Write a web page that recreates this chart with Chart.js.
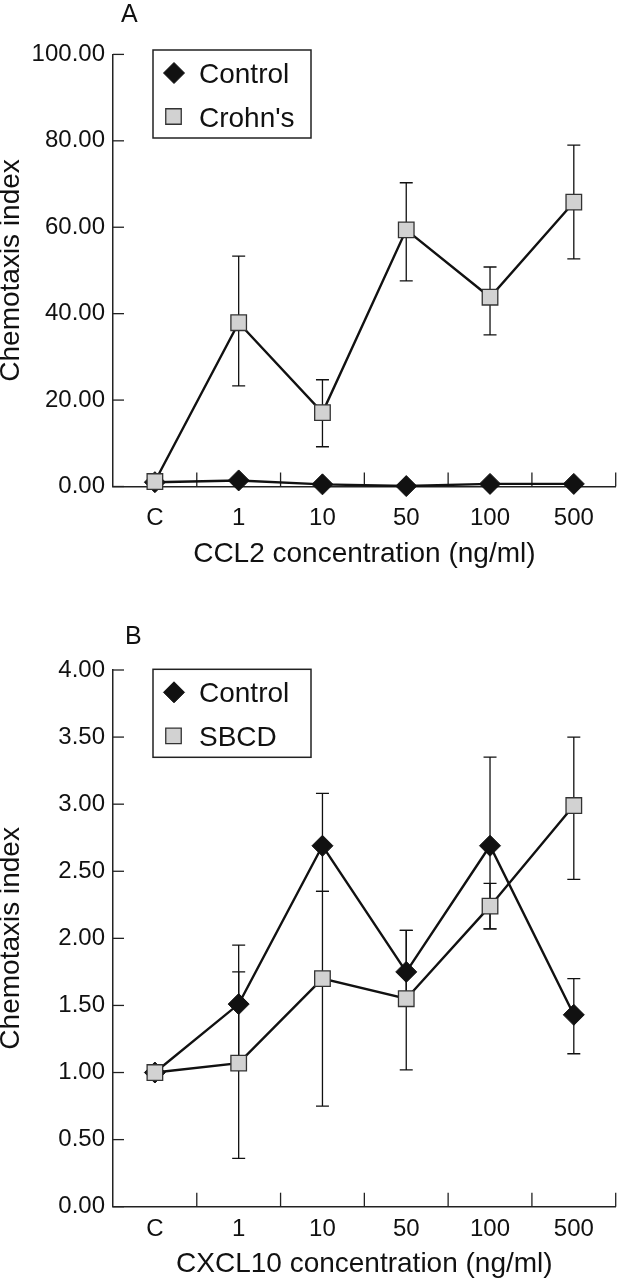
<!DOCTYPE html>
<html><head><meta charset="utf-8">
<script src="https://cdn.jsdelivr.net/npm/chart.js@4.4.0/dist/chart.umd.min.js"></script>
<style>
html,body{margin:0;padding:0;background:#fff;}
#wrap{position:relative;width:628px;height:1280px;overflow:hidden;background:#fff;}
canvas{position:absolute;left:0;}
#cA{top:0;} #cB{top:600px;}
</style></head><body>
<div id="wrap"><canvas id="cA" width="628" height="600"></canvas><canvas id="cB" width="628" height="680"></canvas></div>
<script>
// ---------- data ----------
const categories = ['C', '1', '10', '50', '100', '500'];

// Panel A (CCL2)
const controlA     = [1.0, 1.4, 0.5, 0.1, 0.6, 0.6];
const crohnsA      = [1.15, 37.9, 17.1, 59.4, 43.8, 65.8];
const crohnsALow   = [null, 23.3, 9.2, 47.6, 35.1, 52.7];
const crohnsAHigh  = [null, 53.3, 24.7, 70.3, 50.8, 79.0];
const yTicksA      = [0, 20, 40, 60, 80, 100];

// Panel B (CXCL10)
const controlB     = [1.0, 1.51, 2.69, 1.75, 2.69, 1.43];
const controlBLow  = [null, 1.07, 2.35, 1.55, 2.07, 1.14];
const controlBHigh = [null, 1.95, 3.08, 2.06, 3.35, 1.70];
const sbcdB        = [1.0, 1.07, 1.70, 1.55, 2.24, 2.99];
const sbcdBLow     = [null, 0.36, 0.75, 1.02, 2.07, 2.44];
const sbcdBHigh    = [null, 1.75, 2.35, 2.06, 2.41, 3.50];
const yTicksB      = [0, 0.5, 1, 1.5, 2, 2.5, 3, 3.5, 4];

// ---------- styles ----------
const INK = '#111';
const GREY = '#d2d2d2';
const FONT = "'Liberation Sans', Arial, sans-serif";

function drawDiamond(ctx, x, y, r) {
  ctx.beginPath();
  ctx.moveTo(x - r, y); ctx.lineTo(x, y - r); ctx.lineTo(x + r, y); ctx.lineTo(x, y + r);
  ctx.closePath();
  ctx.fillStyle = INK; ctx.fill();
  ctx.lineWidth = 1; ctx.strokeStyle = INK; ctx.stroke();
}
function drawSquare(ctx, x, y, s) {
  ctx.beginPath();
  ctx.rect(x - s / 2, y - s / 2, s, s);
  ctx.fillStyle = GREY; ctx.fill();
  ctx.lineWidth = 1.3; ctx.strokeStyle = '#333'; ctx.stroke();
}

const panelPlugin = {
  id: 'panel',
  beforeDatasetsDraw(chart, args, opts) {
    const ctx = chart.ctx, xs = chart.scales.x, ys = chart.scales.y;
    const ca = chart.chartArea;
    ctx.save();
    // inward tick marks
    ctx.strokeStyle = '#222'; ctx.lineWidth = 1.3;
    ys.ticks.forEach(t => {
      const py = ys.getPixelForValue(t.value);
      ctx.beginPath(); ctx.moveTo(ca.left, py); ctx.lineTo(ca.left + 11, py); ctx.stroke();
    });
    const half = (xs.getPixelForValue(1) - xs.getPixelForValue(0)) / 2;
    for (let i = 0; i < categories.length; i++) {
      const px = xs.getPixelForValue(i) + half;
      ctx.beginPath(); ctx.moveTo(px, ca.bottom); ctx.lineTo(px, ca.bottom - 14); ctx.stroke();
    }
    // error bars
    ctx.strokeStyle = INK; ctx.lineWidth = 1.3;
    (opts.errors || []).forEach(e => {
      e.low.forEach((lo, i) => {
        const hi = e.high[i];
        if (lo == null || hi == null) return;
        const px = xs.getPixelForValue(i);
        const p1 = ys.getPixelForValue(lo), p2 = ys.getPixelForValue(hi);
        ctx.beginPath();
        ctx.moveTo(px, p1); ctx.lineTo(px, p2);
        ctx.moveTo(px - 6.5, p1); ctx.lineTo(px + 6.5, p1);
        ctx.moveTo(px - 6.5, p2); ctx.lineTo(px + 6.5, p2);
        ctx.stroke();
      });
    });
    ctx.restore();
  },
  afterDraw(chart, args, opts) {
    const ctx = chart.ctx, ca = chart.chartArea;
    ctx.save();
    // panel letter
    ctx.fillStyle = INK;
    ctx.font = "25px " + FONT;
    ctx.textBaseline = 'alphabetic'; ctx.textAlign = 'left';
    ctx.fillText(opts.letter, opts.letterX, opts.letterY);
    // legend box
    const bx = ca.left + 40, by = opts.legendTop, bw = 158, bh = 88;
    ctx.fillStyle = '#fff';
    ctx.fillRect(bx, by, bw, bh);
    ctx.strokeStyle = '#222'; ctx.lineWidth = 1.5;
    ctx.strokeRect(bx, by, bw, bh);
    const r1 = by + 23, r2 = by + 66.5;
    drawDiamond(ctx, bx + 21, r1, 10.5);
    drawSquare(ctx, bx + 20.5, r2, 15.5);
    ctx.fillStyle = INK;
    ctx.font = "28px " + FONT;
    ctx.textBaseline = 'alphabetic';
    ctx.fillText(opts.labels[0], bx + 46, r1 + 10);
    ctx.fillText(opts.labels[1], bx + 46, r2 + 10);
    ctx.restore();
  }
};

function makeChart(id, cfg) {
  const H = document.getElementById(id).height;
  return new Chart(document.getElementById(id), {
    type: 'line',
    data: {
      labels: categories,
      datasets: [
        {
          label: cfg.names[0], data: cfg.series[0], order: 2, clip: false,
          borderColor: INK, borderWidth: 2.4, tension: 0,
          pointStyle: 'rectRot', pointRadius: 10.5, pointHoverRadius: 10.5,
          pointBackgroundColor: INK, pointBorderColor: INK, pointBorderWidth: 1
        },
        {
          label: cfg.names[1], data: cfg.series[1], order: 1, clip: false,
          borderColor: INK, borderWidth: 2.4, tension: 0,
          pointStyle: 'rect', pointRadius: 11, pointHoverRadius: 11,
          pointBackgroundColor: GREY, pointBorderColor: '#333', pointBorderWidth: 1.3
        }
      ]
    },
    options: {
      responsive: false, animation: false, devicePixelRatio: 1,
      events: [],
      layout: { padding: { top: cfg.top, right: 1, left: 0, bottom: 0 } },
      plugins: {
        legend: { display: false }, tooltip: { enabled: false },
        panel: cfg.panel
      },
      scales: {
        x: {
          type: 'category', offset: true,
          grid: { display: true, drawOnChartArea: false, drawTicks: false, offset: true, color: 'rgba(0,0,0,0)' },
          border: { display: true, color: '#222', width: 1.5 },
          ticks: { color: INK, font: { family: FONT, size: 24 }, padding: cfg.xTickPad, maxRotation: 0, autoSkip: false },
          title: { display: true, text: cfg.xTitle, color: INK, font: { family: FONT, size: 28, lineHeight: 1 }, padding: { top: 0, bottom: cfg.xTitlePad } },
          afterFit: s => { s.height = H - cfg.bottom; }
        },
        y: {
          type: 'linear', min: cfg.yTicks[0], max: cfg.yTicks[cfg.yTicks.length - 1],
          afterBuildTicks: s => { s.ticks = cfg.yTicks.map(v => ({ value: v })); },
          grid: { display: true, drawOnChartArea: false, drawTicks: false, color: 'rgba(0,0,0,0)' },
          border: { display: true, color: '#222', width: 1.5 },
          ticks: { color: INK, font: { family: FONT, size: 24 }, padding: 8, callback: v => Number(v).toFixed(2) },
          title: { display: true, text: 'Chemotaxis index', color: INK, font: { family: FONT, size: 28, lineHeight: 0.84 }, padding: 0 },
          afterFit: s => { s.width = 113; }
        }
      }
    },
    plugins: [panelPlugin]
  });
}

makeChart('cA', {
  names: ['Control', "Crohn's"], series: [controlA, crohnsA], yTicks: yTicksA,
  top: 54.4, bottom: 486.5, xTickPad: 17, xTitlePad: 32,
  xTitle: 'CCL2 concentration (ng/ml)',
  panel: { letter: 'A', letterX: 121, letterY: 22, legendTop: 50, labels: ['Control', "Crohn's"],
           errors: [{ low: crohnsALow, high: crohnsAHigh }] }
});

makeChart('cB', {
  names: ['Control', 'SBCD'], series: [controlB, sbcdB], yTicks: yTicksB,
  top: 70, bottom: 606.7, xTickPad: 8, xTitlePad: 1.7,
  xTitle: 'CXCL10 concentration (ng/ml)',
  panel: { letter: 'B', letterX: 125, letterY: 43.5, legendTop: 69.3, labels: ['Control', 'SBCD'],
           errors: [{ low: controlBLow, high: controlBHigh }, { low: sbcdBLow, high: sbcdBHigh }] }
});
</script>
</body></html>
